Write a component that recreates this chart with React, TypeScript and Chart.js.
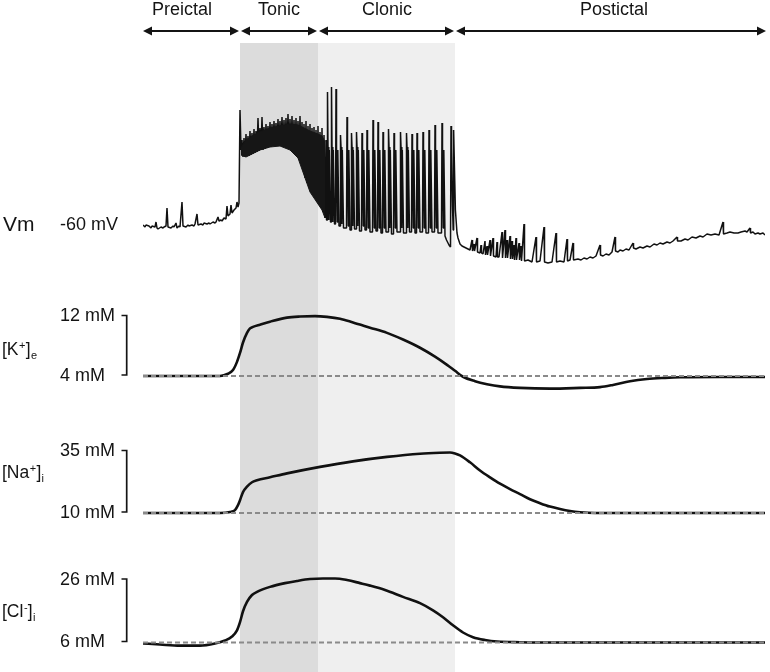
import { useEffect, useRef } from "react";
import { Chart, registerables } from "chart.js";

Chart.register(...registerables);

type Pt = [number, number];

// time (s) , membrane potential (mV)
const vmPreictal: Pt[] = [
  [0, -59.5], [1, -60.5], [1.5, -59.5], [3, -60], [4, -61], [4.5, -60], [6, -60.5], [6.5, -58], [7, -61], [7.5, -61.5],
  [9, -60.5], [10, -61], [10.5, -60.5], [11.5, -60], [12, -51], [12.5, -60.5], [14, -61], [15, -60], [15.5, -60.5],
  [16.5, -58.5], [17, -61], [18, -60], [18.5, -60.5], [19.5, -48], [20, -60], [21.5, -60.5], [22.5, -59.5], [23, -60],
  [24.5, -59.5], [25.5, -60], [26, -59], [27, -54], [27.5, -59.5], [29, -59], [30, -59.5], [30.5, -58.5], [32, -59],
  [33, -58.5], [33.5, -59], [35, -58], [36, -58.5], [36.5, -58], [37.5, -55.5], [38, -57.5], [39, -57], [39.5, -57.5],
  [40.5, -56], [41.5, -56.5], [42, -50], [42.5, -55], [43.5, -54], [44, -49.5], [44.5, -53.5], [45.5, -52],
  [46.5, -51], [47, -48], [47.5, -50.5], [48, -48.5], [48.5, -2],
];

const vmTonic: Pt[] = [
  [49, -22], [49.5, -17], [50, -25.5], [50.5, -16], [51, -25.5], [51.5, -14], [52, -25], [52.5, -15], [53, -25],
  [53.5, -12.5], [54, -24.5], [54.5, -13.5], [55, -24], [55.5, -11.5], [56, -23.5], [56.5, -12.5], [57, -23],
  [57.5, -6], [58, -22.5], [58.5, -11], [59, -22], [59.5, -5.5], [60, -22], [60.5, -10.5], [61, -21.5], [61.5, -9],
  [62, -21], [62.5, -10], [63, -20.5], [63.5, -8], [64, -20.5], [64.5, -9], [65, -20], [65.5, -7.5], [66, -20],
  [66.5, -8.5], [67, -20], [67.5, -6.5], [68, -20], [68.5, -7.5], [69, -20], [69.5, -5.5], [70, -20.5], [70.5, -7],
  [71, -20.5], [71.5, -6], [72, -21], [72.5, -4], [73, -21.5], [73.5, -6.5], [74, -22], [74.5, -5], [75, -22.5],
  [75.5, -7], [76, -24], [76.5, -6], [77, -25], [77.5, -7.5], [78, -27], [78.5, -5], [79, -29], [79.5, -8], [80, -32],
  [80.5, -9], [81, -36], [81.5, -7.5], [82, -38.5], [82.5, -10], [83, -41], [83.5, -9], [84, -43], [84.5, -11],
  [85, -44.5], [85.5, -10.5], [86, -46], [86.5, -12], [87, -48], [87.5, -10],
];

// solid core of the tonic discharge band (upper / lower edge, mV)
const tonicBandUpper: Pt[] = [
  [49, -21], [51.5, -17], [54.5, -15], [58.5, -13], [63.5, -11], [68.5, -10], [73.5, -9], [77.5, -9.5],
  [80.5, -11], [83.5, -12.5], [87.5, -14], [89.5, -15], [91, -18],
];
const tonicBandLower: Pt[] = [
  [49, -24.5], [51.5, -25.5], [54.5, -24], [58.5, -22], [63.5, -20.5], [68.5, -20], [73.5, -22], [77.5, -26],
  [80.5, -34.5], [83.5, -43], [87.5, -49], [89.5, -52], [91, -56],
];

const vmClonic: Pt[] = [
  [88, -49.5], [88.5, -13], [89, -51], [89.5, -11], [90, -53], [90.5, -14.5], [91, -56], [91.5, -17], [91.75, -57],
  [92, -57], [92.25, 7], [92.5, -20.5], [92.9, -57], [93.15, -22], [93.75, -58],
  [94, -58], [94.25, 9.5], [94.5, -20.5], [94.9, -58], [95.15, -22], [95.75, -59],
  [96.25, -59], [96.5, 8.5], [96.75, -20.5], [97.15, -58], [97.4, -22], [98, -60],
  [98.5, -60], [98.75, -14.5], [99, -20.5], [99.4, -59], [99.65, -22], [100.25, -61],
  [101.75, -61], [102, -5.5], [102.25, -20.5], [102.65, -60], [102.9, -22], [103.5, -62],
  [104, -62], [104.25, -13.5], [104.5, -20.5], [104.9, -60], [105.15, -22], [105.75, -61.5],
  [106.5, -61.5], [106.75, -13], [107, -20.5], [107.4, -60], [107.65, -22], [108.25, -62.5],
  [109.25, -62.5], [109.5, -13.5], [109.75, -20.5], [110.15, -60], [110.4, -22], [111, -62],
  [111.75, -62], [112, -12], [112.25, -20.5], [112.65, -61], [112.9, -22], [113.5, -63],
  [114.75, -63], [115, -7], [115.25, -20.5], [115.65, -61], [115.9, -22], [116.5, -62.5],
  [117.25, -62.5], [117.5, -8], [117.75, -20.5], [118.15, -61], [118.4, -22], [119, -63.5],
  [119.75, -63.5], [120, -13], [120.25, -20.5], [120.65, -61], [120.9, -22], [121.5, -63],
  [122.5, -63], [122.75, -11.5], [123, -20.5], [123.4, -61], [123.65, -22], [124.25, -64],
  [125.25, -64], [125.5, -13.5], [125.75, -20.5], [126.15, -61], [126.4, -22], [127, -63],
  [128.5, -63], [128.75, -13], [129, -20.5], [129.4, -61], [129.65, -22], [130.25, -63.5],
  [131.5, -63.5], [131.75, -13.5], [132, -20.5], [132.4, -61], [132.65, -22], [133.25, -63],
  [134.25, -63], [134.5, -14], [134.75, -20.5], [135.15, -61], [135.4, -22], [136, -63.5],
  [136.75, -63.5], [137, -13.5], [137.25, -20.5], [137.65, -61], [137.9, -22], [138.5, -63],
  [139.75, -63], [140, -13], [140.25, -20.5], [140.65, -61], [140.9, -22], [141.5, -63.5],
  [142.75, -63.5], [143, -12], [143.25, -20.5], [143.65, -61], [143.9, -22], [144.5, -63],
  [145.75, -63], [146, -9.5], [146.25, -20.5], [146.65, -61], [146.9, -22], [147.5, -63.5],
  [149.25, -63.5], [149.5, -8.5], [149.75, -20.5], [150.15, -61], [150.4, -22], [151, -65], [151.75, -67], [153, -69.5],
  [153.75, -70.5], [154, -10], [154.25, -20.5], [154.75, -50], [155.1, -62],
  [155.3, -12], [155.6, -25], [156.2, -52], [157, -63.5],
];

const vmPostictal: Pt[] = [
  [157.5, -66], [158.5, -69], [159.5, -70], [160.5, -70.5], [161.5, -71], [162.5, -71.5], [163.5, -72], [164.5, -67],
  [164.75, -72.5], [165.5, -69], [165.75, -72.5], [167, -66], [167.25, -73], [168.5, -73.5], [169, -69.5],
  [169.25, -73.5], [170, -74], [171, -67.5], [171.25, -74.5], [172, -70], [172.25, -74.5], [173.5, -67],
  [173.75, -75], [175, -66], [175.25, -75], [176.5, -75.5], [177, -68], [177.25, -75.5], [178, -75.5], [179.5, -63],
  [179.75, -76], [181, -62], [181.25, -76], [182, -67], [182.25, -76], [183.5, -65], [183.75, -76.5], [184.5, -67.5],
  [184.75, -76.5], [185.5, -69.5], [185.75, -77], [186.5, -66], [186.75, -77], [188, -68.5], [188.25, -77],
  [189, -70], [189.25, -77.5], [190.5, -59], [190.75, -77.5], [192.5, -77], [194.5, -78], [196.5, -65.5],
  [196.75, -78], [198.5, -77.5], [200.5, -60.5], [200.75, -78], [202.5, -78.5], [204.5, -78], [206.5, -63.5],
  [206.75, -78], [208.5, -77.5], [210.5, -78], [212, -66.5], [212.25, -77.5], [213.5, -77], [215, -68.5],
  [215.25, -77], [217.5, -76.5], [219, -77], [220.5, -76], [222, -76.5], [223.5, -75.5], [225, -76], [226.5, -75],
  [228.5, -69.5], [228.75, -74.5], [230, -75], [231.5, -74], [233, -74.5], [234.5, -73], [236, -65.5], [236.25, -72.5],
  [237.5, -73], [238.5, -72], [240, -72.5], [241.5, -71.5], [243, -72], [245, -68.5], [245.25, -71], [246.5, -71.5],
  [248.5, -70.5], [250, -71], [252, -70], [253.5, -70.5], [255.5, -69], [257, -69.5], [258.5, -68.5], [260, -69],
  [262, -68], [263.5, -68.5], [265, -67.5], [267, -65.5], [267.25, -67.5], [269, -67.5], [271, -66.5], [272.5, -67],
  [274.5, -65.5], [276.5, -66], [278.5, -65], [280, -65.5], [282, -64], [284, -64.5], [286, -64], [288, -64.5],
  [290, -58], [290.25, -64], [292, -63.5], [293.5, -63], [295.5, -63.5], [297.5, -63.5], [299, -63], [301, -62.5],
  [302, -63], [303.5, -61], [303.75, -63.5], [305, -63], [306, -64], [307.5, -63.5], [308.5, -64], [310, -63.5],
  [311, -64.5],
];

// time (s), concentration (mM)
const kExtracellular: Pt[] = [
  [0, 4], [28.5, 4], [38.5, 4], [42.5, 4.3], [45, 4.8], [47, 5.9], [48.5, 7.1], [50, 8.5], [52, 9.8], [53.5, 10.4],
  [55, 10.6], [58.5, 10.9], [63.5, 11.3], [72, 11.85], [78.5, 12], [86, 12.05], [92, 11.95], [98.5, 11.7],
  [105, 11.2], [113.5, 10.5], [122, 9.8], [130, 8.9], [138.5, 7.8], [146, 6.6], [152, 5.5], [156, 4.7], [160, 3.9],
  [166, 3.3], [172, 2.9], [178.5, 2.6], [188.5, 2.4], [203.5, 2.3], [218.5, 2.4], [228.5, 2.5], [235, 2.8],
  [243.5, 3.3], [252, 3.6], [261, 3.75], [268.5, 3.83], [288.5, 3.87], [311, 3.87],
];

const naIntracellular: Pt[] = [
  [0, 10], [38.5, 10], [43.5, 10.4], [46, 11.2], [47.5, 13.2], [48.5, 15.2], [50, 18.5], [52, 20.7], [54.5, 22.5],
  [57, 23.3], [63.5, 24.5], [72, 26.1], [88.5, 28.75], [105, 31], [122, 32.8], [138.5, 34.1], [148.5, 34.5],
  [153.5, 34.6], [156, 34.2], [158.5, 33.4], [163.5, 30.6], [168.5, 27.3], [173.5, 24.5], [178.5, 21.9],
  [183.5, 19.7], [188.5, 17.7], [193.5, 15.6], [198.5, 14], [203.5, 12.6], [208.5, 11.6], [213.5, 10.8],
  [218.5, 10.3], [226, 10], [311, 10],
];

const clIntracellular: Pt[] = [
  [0, 5.7], [8.5, 5.35], [18.5, 5], [28.5, 5], [36, 5.7], [41, 6.65], [44.5, 7.9], [47, 9.9], [48.5, 12.5], [50, 16],
  [52, 19], [54.5, 21.2], [57, 22.2], [63.5, 23.8], [71, 25], [77, 25.7], [83.5, 26.3], [90, 26.5], [96, 26.5],
  [102, 26], [108.5, 25], [113.5, 24.2], [121, 22.8], [130, 20.6], [138.5, 18.6], [145, 16.3], [150, 14.1],
  [155, 11.5], [160, 9.2], [165, 7.7], [171, 6.8], [177, 6.3], [188.5, 6.1], [208.5, 6], [311, 6],
];

const phaseNames = ["Preictal", "Tonic", "Clonic", "Postictal"];
const phaseBounds = [0, 48.5, 87.5, 156, 312];
const phaseLabelAt = [19.5, 68, 122, 235.5];
const timeRange = [0, 311];

const vmRestValue = -60;
const kScaleBar = [4, 12];
const naScaleBar = [10, 35];
const clScaleBar = [6, 26];

const AREA_TOP = 43;
const AREA_BOTTOM = 672;
const FONT = '"Liberation Sans", Arial, Helvetica, sans-serif';
const INK = "#141414";

function band(vHi: number, pHi: number, vLo: number, pLo: number) {
  const s = (vHi - vLo) / (pLo - pHi);
  return { min: vLo - (AREA_BOTTOM - pLo) * s, max: vHi + (pHi - AREA_TOP) * s };
}

const toXY = (arr: Pt[]) => arr.map(([x, y]) => ({ x, y }));

export default function App() {
  const ref = useRef<HTMLCanvasElement | null>(null);

  useEffect(() => {
    if (!ref.current) return;

    const drawIon = (ctx: CanvasRenderingContext2D, main: string, sup: string, sub: string, x: number, yb: number) => {
      ctx.textAlign = "left";
      ctx.textBaseline = "alphabetic";
      ctx.font = `17.5px ${FONT}`;
      ctx.fillText(main, x, yb);
      let cx = x + ctx.measureText(main).width + 0.5;
      ctx.font = `11px ${FONT}`;
      ctx.fillText(sup, cx, yb - 6);
      cx += ctx.measureText(sup).width + 0.3;
      ctx.font = `17.5px ${FONT}`;
      ctx.fillText("]", cx, yb);
      cx += ctx.measureText("]").width + 0.3;
      ctx.font = `11px ${FONT}`;
      ctx.fillText(sub, cx, yb + 4);
    };

    const drawHead = (ctx: CanvasRenderingContext2D, tip: number, y: number, dir: number) => {
      ctx.beginPath();
      ctx.moveTo(tip, y);
      ctx.lineTo(tip + dir * 9, y - 4.5);
      ctx.lineTo(tip + dir * 9, y + 4.5);
      ctx.closePath();
      ctx.fill();
    };

    const decorations = {
      id: "decorations",
      beforeDatasetsDraw(chart: any) {
        const { ctx, chartArea, scales } = chart;
        const xs = scales.x;
        ctx.save();
        const shades = ["#dcdcdc", "#efefef"];
        for (let i = 0; i < 2; i++) {
          const a = xs.getPixelForValue(phaseBounds[i + 1]);
          const b = xs.getPixelForValue(phaseBounds[i + 2]);
          ctx.fillStyle = shades[i];
          ctx.fillRect(a, chartArea.top, b - a, chartArea.bottom - chartArea.top);
        }
        ctx.restore();
      },
      afterDraw(chart: any) {
        const { ctx, scales } = chart;
        const xs = scales.x;
        ctx.save();
        ctx.fillStyle = INK;
        ctx.strokeStyle = INK;

        // phase arrows
        const ay = 31;
        for (let i = 0; i < phaseNames.length; i++) {
          const x1 = xs.getPixelForValue(phaseBounds[i]) + (i > 0 ? 1 : 0);
          const x2 = xs.getPixelForValue(phaseBounds[i + 1]) - 1;
          ctx.lineWidth = 2;
          ctx.beginPath();
          ctx.moveTo(x1 + 6, ay);
          ctx.lineTo(x2 - 6, ay);
          ctx.stroke();
          drawHead(ctx, x1, ay, 1);
          drawHead(ctx, x2, ay, -1);
          ctx.font = `18px ${FONT}`;
          ctx.textAlign = "center";
          ctx.textBaseline = "alphabetic";
          ctx.fillText(phaseNames[i], xs.getPixelForValue(phaseLabelAt[i]), 15);
        }

        // Vm labels
        const yVm = scales.yVm.getPixelForValue(vmRestValue) - 1;
        ctx.textBaseline = "middle";
        ctx.textAlign = "left";
        ctx.font = `21px ${FONT}`;
        ctx.fillText("Vm", 3, yVm);
        ctx.font = `18px ${FONT}`;
        ctx.fillText("-60 mV", 60, yVm);

        // ion scale bars
        const bars: [string, number[], string, string, string, number][] = [
          ["yK", kScaleBar, "[K", "+", "e", 355],
          ["yNa", naScaleBar, "[Na", "+", "i", 478],
          ["yCl", clScaleBar, "[Cl", "-", "i", 617],
        ];
        for (const [id, vals, main, sup, sub, yb] of bars) {
          const sc = scales[id];
          const pLo = sc.getPixelForValue(vals[0]);
          const pHi = sc.getPixelForValue(vals[1]);
          ctx.lineWidth = 1.7;
          ctx.beginPath();
          ctx.moveTo(121.5, pHi - 1);
          ctx.lineTo(126.7, pHi - 1);
          ctx.lineTo(126.7, pLo - 1);
          ctx.lineTo(121.5, pLo - 1);
          ctx.stroke();
          ctx.font = `18px ${FONT}`;
          ctx.textAlign = "left";
          ctx.textBaseline = "middle";
          ctx.fillText(`${vals[1]} mM`, 60, pHi);
          ctx.fillText(`${vals[0]} mM`, 60, pLo);
          drawIon(ctx, main, sup, sub, 2, yb);
        }
        ctx.restore();
      },
    };

    const dashed = (yAxisID: string, v: number) => ({
      data: [{ x: timeRange[0], y: v }, { x: timeRange[1], y: v }],
      yAxisID,
      borderColor: "#8a8a8a",
      borderWidth: 2,
      borderDash: [5, 3],
    });

    const ionLine = (yAxisID: string, arr: Pt[]) => ({
      data: toXY(arr),
      yAxisID,
      borderColor: "#111111",
      borderWidth: 2.6,
      cubicInterpolationMode: "monotone" as const,
    });

    const chart = new Chart(ref.current, {
      type: "line",
      data: {
        datasets: [
          dashed("yK", kScaleBar[0]) as any,
          dashed("yNa", naScaleBar[0]) as any,
          dashed("yCl", clScaleBar[0]) as any,
          {
            data: toXY(tonicBandUpper),
            yAxisID: "yVm",
            borderColor: "#161616",
            borderWidth: 1,
            tension: 0,
          },
          {
            data: toXY(tonicBandLower),
            yAxisID: "yVm",
            borderColor: "#161616",
            borderWidth: 1,
            backgroundColor: "#161616",
            fill: "-1",
            tension: 0,
          } as any,
          {
            data: toXY([...vmPreictal, ...vmTonic, ...vmClonic, ...vmPostictal]),
            yAxisID: "yVm",
            borderColor: "#111111",
            borderWidth: 1.5,
            borderJoinStyle: "bevel",
            tension: 0,
          },
          ionLine("yK", kExtracellular) as any,
          ionLine("yNa", naIntracellular) as any,
          ionLine("yCl", clIntracellular) as any,
        ],
      },
      options: {
        animation: false,
        responsive: false,
        maintainAspectRatio: false,
        layout: { padding: { left: 143, right: 5, top: AREA_TOP, bottom: 0 } },
        elements: { point: { radius: 0 } },
        plugins: { legend: { display: false }, tooltip: { enabled: false } },
        events: [],
        scales: {
          x: { type: "linear", min: timeRange[0], max: timeRange[1], display: false },
          yVm: { type: "linear", display: false, ...band(0, 106, -60, 226) },
          yK: { type: "linear", display: false, ...band(12, 316.5, 4, 376) },
          yNa: { type: "linear", display: false, ...band(35, 451.5, 10, 513) },
          yCl: { type: "linear", display: false, ...band(26, 580, 6, 642.5) },
        },
      },
      plugins: [decorations],
    });

    return () => chart.destroy();
  }, []);

  return (
    <div style={{ position: "absolute", left: 0, top: 0, width: 770, height: 672, background: "#fff" }}>
      <canvas ref={ref} width={770} height={672} style={{ display: "block" }} />
    </div>
  );
}
